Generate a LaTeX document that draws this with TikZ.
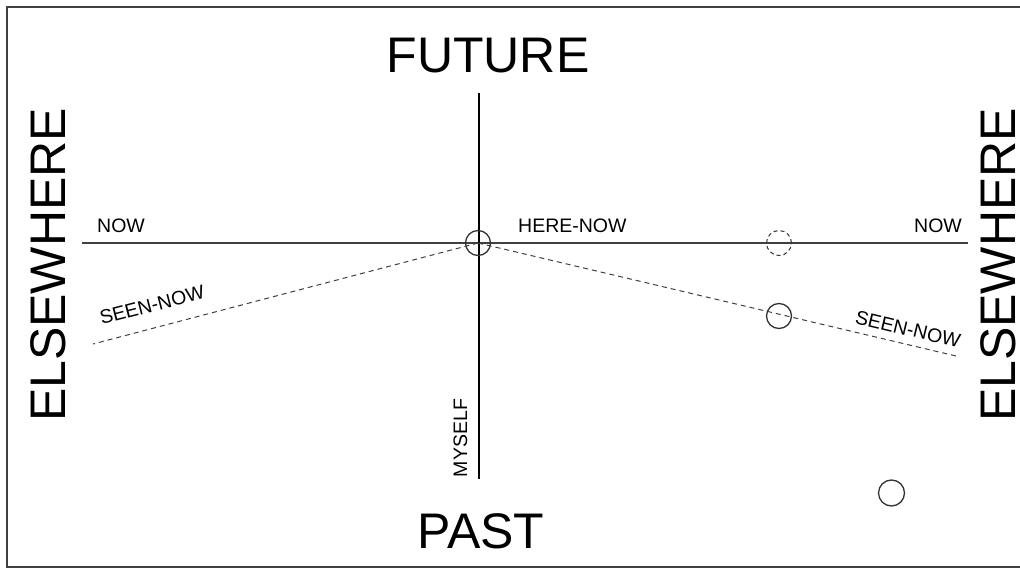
\documentclass[tikz,border=0pt]{standalone}
\usepackage{fontspec}
\setmainfont{Liberation Sans}
\begin{document}
\begin{tikzpicture}[x=1pt,y=-1pt,
  big/.style={font=\fontsize{50}{52}\selectfont, inner sep=0pt},
  small/.style={font=\fontsize{19.5}{22}\selectfont, inner sep=0pt},
  ring/.style={circle, draw=black!80, line width=1.3pt, minimum size=25pt, inner sep=0pt},
  dashring/.style={ring, dash pattern=on 4pt off 3pt, line width=1pt},
  seen/.style={draw=black!75, line width=1pt, dash pattern=on 5pt off 4pt},
  nowline/.style={draw=black!75, line width=1.6pt},
  axis/.style={draw=black, line width=2.6pt}]
\useasboundingbox (0,0) rectangle (1020,569);
\draw[black!75, line width=1.6pt] (1021,7) -- (7,7) -- (7,567) -- (1021,567);
% coordinates
\coordinate (O) at (478,243);
\coordinate (nowL) at (82,243);
\coordinate (nowR) at (968,243);
\coordinate (top) at (479,93);
\coordinate (bot) at (479,479);
\coordinate (seenL) at (93,344);
\coordinate (seenR) at (956,356);
% lines
\draw[nowline] (nowL) -- (nowR);
\draw[axis] (top) -- (bot);
\draw[seen] (O) -- (seenL);
\draw[seen] (O) -- (seenR);
% circles
\node[ring] (here) at (O) {};
\node[dashring] (ghost) at (779,243) {};
\node[ring] (seenobj) at (779,316) {};
\node[ring, minimum size=26pt] (past) at (891.5,493) {};
% big labels
\node[big, anchor=base] (future) at (488,73) {FUTURE};
\node[big, anchor=base] (pastlbl) at (481,548) {PAST};
\node[big, anchor=base, rotate=90] (elseL) at (65,265) {ELSEWHERE};
\node[big, anchor=base, rotate=90] (elseR) at (1015,265) {ELSEWHERE};
% small labels
\node[small, anchor=base] (nowLl) at (121,233) {NOW};
\node[small, anchor=base] (nowRl) at (938,233) {NOW};
\node[small, anchor=base west] (herenow) at (518,233) {HERE-NOW};
\node[small, anchor=base, rotate=90] (myself) at (467,438) {MYSELF};
\node[small, rotate=14.5] (seenLl) at (152,305) {SEEN-NOW};
\node[small, rotate=-13.5] (seenRl) at (908,329) {SEEN-NOW};
\end{tikzpicture}
\end{document}
